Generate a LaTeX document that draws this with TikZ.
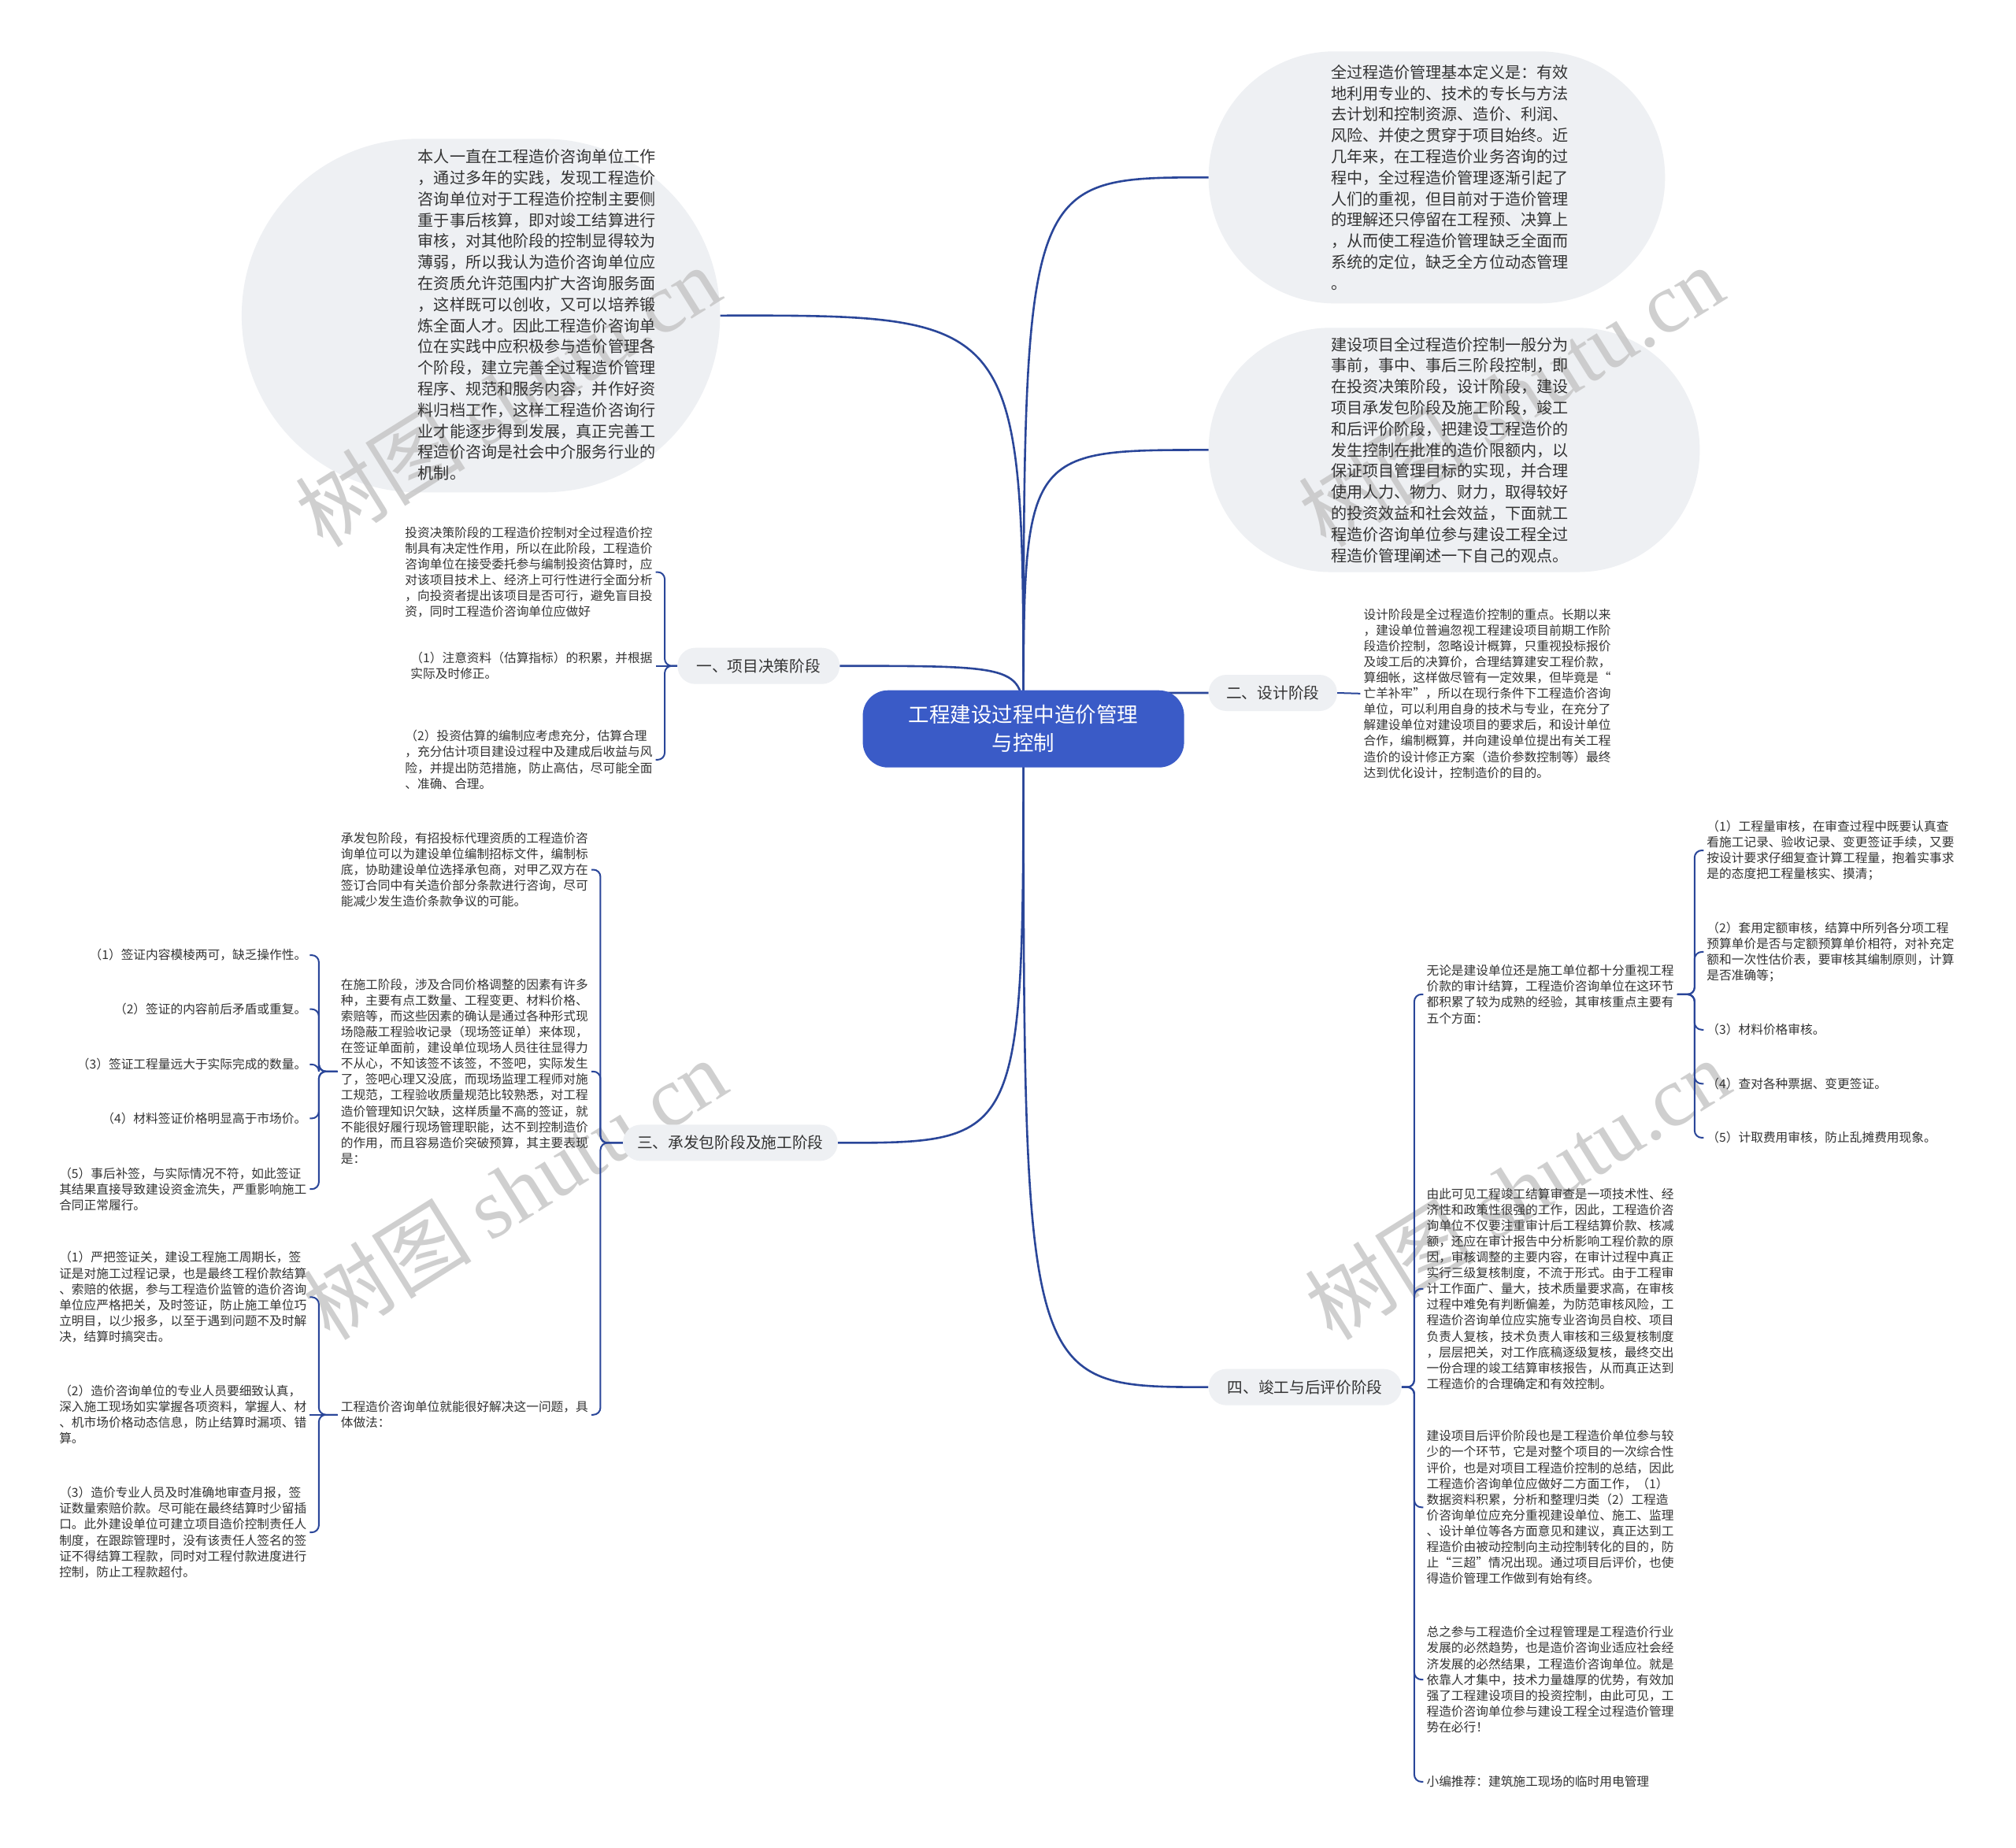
\documentclass[tikz,border=0pt]{standalone}
\usepackage{fontspec}
\setmainfont{Noto Sans CJK SC}
\newfontfamily\wmserif{Liberation Serif}
\definecolor{pillc}{HTML}{EEF0F3}
\definecolor{rootc}{HTML}{3A5BC7}
\definecolor{linec}{HTML}{2A4699}
\definecolor{txtc}{HTML}{333333}
\definecolor{wmc}{HTML}{C4C4C4}
\pgfdeclarelayer{bg}
\pgfdeclarelayer{mid}
\pgfsetlayers{bg,mid,main}
\tikzset{
  txt/.style={inner ysep=0pt, inner xsep=4pt, align=left, text=txtc, font=\fontsize{15.7pt}{20.1pt}\selectfont},
  bigtxt/.style={inner sep=0pt, align=left, text=txtc, anchor=west, font=\fontsize{20.1pt}{26.8pt}\selectfont},
  ltxt/.style={txt, anchor=east},
  rtxt/.style={txt, anchor=west},
  pill/.style={fill=pillc, rounded corners=22.5pt, minimum height=46pt, inner sep=0pt, text=txtc, font=\fontsize{19.7pt}{24pt}\selectfont},
  bubble/.style={fill=pillc, inner sep=0pt},
  rootnode/.style={fill=rootc, rounded corners=32pt, minimum width=408pt, minimum height=98pt, inner sep=0pt, align=center, text=white, font=\fontsize{26.5pt}{36pt}\selectfont},
  branch/.style={draw=linec, line width=2.6pt},
  brk/.style={draw=linec, line width=2pt, rounded corners=9pt},
  wm/.style={text=wmc, opacity=0.8, rotate=32, inner sep=0pt, font=\fontsize{108pt}{108pt}\selectfont}
}
\begin{document}
\begin{tikzpicture}[x=1.6327pt,y=-1.6327pt]
\useasboundingbox (0,0) rectangle (1568,1437);
\begin{pgfonlayer}{bg}
\fill[white] (0,0) rectangle (1568,1437);
\node[bubble, minimum width=607.4pt, minimum height=449pt, rounded corners=224pt] (b1) at (374,245.5) {};
\node[bubble, minimum width=579.6pt, minimum height=320pt, rounded corners=159.5pt] (b2) at (1117.5,138) {};
\node[bubble, minimum width=623.7pt, minimum height=310.2pt, rounded corners=154.5pt] (b3) at (1131,350) {};
\node[wm] (w1) at (395,308) {树图 {\wmserif shutu.cn}};
\node[wm] (w2) at (1175,308) {树图 {\wmserif shutu.cn}};
\node[wm] (w3) at (400,925) {树图 {\wmserif shutu.cn}};
\node[wm] (w4) at (1180,925) {树图 {\wmserif shutu.cn}};
\end{pgfonlayer}

% bubble texts
\node[bigtxt] (t1) at (325,245) {本人一直在工程造价咨询单位工作\\，通过多年的实践，发现工程造价\\咨询单位对于工程造价控制主要侧\\重于事后核算，即对竣工结算进行\\审核，对其他阶段的控制显得较为\\薄弱，所以我认为造价咨询单位应\\在资质允许范围内扩大咨询服务面\\，这样既可以创收，又可以培养锻\\炼全面人才。因此工程造价咨询单\\位在实践中应积极参与造价管理各\\个阶段，建立完善全过程造价管理\\程序、规范和服务内容，并作好资\\料归档工作，这样工程造价咨询行\\业才能逐步得到发展，真正完善工\\程造价咨询是社会中介服务行业的\\机制。};
\node[bigtxt] (t2) at (1035,138) {全过程造价管理基本定义是：有效\\地利用专业的、技术的专长与方法\\去计划和控制资源、造价、利润、\\风险、并使之贯穿于项目始终。近\\几年来，在工程造价业务咨询的过\\程中，全过程造价管理逐渐引起了\\人们的重视，但目前对于造价管理\\的理解还只停留在工程预、决算上\\，从而使工程造价管理缺乏全面而\\系统的定位，缺乏全方位动态管理\\。};
\node[bigtxt] (t3) at (1035,350) {建设项目全过程造价控制一般分为\\事前，事中、事后三阶段控制，即\\在投资决策阶段，设计阶段，建设\\项目承发包阶段及施工阶段，竣工\\和后评价阶段，把建设工程造价的\\发生控制在批准的造价限额内，以\\保证项目管理目标的实现，并合理\\使用人力、物力、财力，取得较好\\的投资效益和社会效益，下面就工\\程造价咨询单位参与建设工程全过\\程造价管理阐述一下自己的观点。};

% root and level-1 nodes
\node[rootnode] (root) at (796,567) {工程建设过程中造价管理\\与控制};
\node[pill, minimum width=205.7pt] (p1) at (590,518) {一、项目决策阶段};
\node[pill, minimum width=163pt] (p2) at (990,539) {二、设计阶段};
\node[pill, minimum width=272.7pt] (p3) at (568,889) {三、承发包阶段及施工阶段};
\node[pill, minimum width=245pt] (p4) at (1015,1079) {四、竣工与后评价阶段};

% branch one
\node[ltxt] (c1) at (510,445) {投资决策阶段的工程造价控制对全过程造价控\\制具有决定性作用，所以在此阶段，工程造价\\咨询单位在接受委托参与编制投资估算时，应\\对该项目技术上、经济上可行性进行全面分析\\，向投资者提出该项目是否可行，避免盲目投\\资，同时工程造价咨询单位应做好};
\node[ltxt] (c2) at (510,518) {（1）注意资料（估算指标）的积累，并根据\\实际及时修正。};
\node[ltxt] (c3) at (510,591) {（2）投资估算的编制应考虑充分，估算合理\\，充分估计项目建设过程中及建成后收益与风\\险，并提出防范措施，防止高估，尽可能全面\\、准确、合理。};

% branch two
\node[rtxt] (dz) at (1058,539.5) {设计阶段是全过程造价控制的重点。长期以来\\，建设单位普遍忽视工程建设项目前期工作阶\\段造价控制，忽略设计概算，只重视投标报价\\及竣工后的决算价，合理结算建安工程价款，\\算细帐，这样做尽管有一定效果，但毕竟是“\\亡羊补牢”，所以在现行条件下工程造价咨询\\单位，可以利用自身的技术与专业，在充分了\\解建设单位对建设项目的要求后，和设计单位\\合作，编制概算，并向建设单位提出有关工程\\造价的设计修正方案（造价参数控制等）最终\\达到优化设计，控制造价的目的。};

% branch three
\node[ltxt] (d1) at (460,676.5) {承发包阶段，有招投标代理资质的工程造价咨\\询单位可以为建设单位编制招标文件，编制标\\底，协助建设单位选择承包商，对甲乙双方在\\签订合同中有关造价部分条款进行咨询，尽可\\能减少发生造价条款争议的可能。};
\node[ltxt] (d2) at (460,833.5) {在施工阶段，涉及合同价格调整的因素有许多\\种，主要有点工数量、工程变更、材料价格、\\索赔等，而这些因素的确认是通过各种形式现\\场隐蔽工程验收记录（现场签证单）来体现，\\在签证单面前，建设单位现场人员往往显得力\\不从心，不知该签不该签，不签吧，实际发生\\了，签吧心理又没底，而现场监理工程师对施\\工规范，工程验收质量规范比较熟悉，对工程\\造价管理知识欠缺，这样质量不高的签证，就\\不能很好履行现场管理职能，达不到控制造价\\的作用，而且容易造价突破预算，其主要表现\\是：};
\node[ltxt] (d3) at (460,1100.5) {工程造价咨询单位就能很好解决这一问题，具\\体做法：};

\node[ltxt] (e1) at (241,743) {（1）签证内容模棱两可，缺乏操作性。};
\node[ltxt] (e2) at (241,785) {（2）签证的内容前后矛盾或重复。};
\node[ltxt] (e3) at (241,828) {（3）签证工程量远大于实际完成的数量。};
\node[ltxt] (e4) at (241,870) {（4）材料签证价格明显高于市场价。};
\node[ltxt] (e5) at (241,925) {（5）事后补签，与实际情况不符，如此签证\\其结果直接导致建设资金流失，严重影响施工\\合同正常履行。};

\node[ltxt] (f1) at (241,1009) {（1）严把签证关，建设工程施工周期长，签\\证是对施工过程记录，也是最终工程价款结算\\、索赔的依据，参与工程造价监管的造价咨询\\单位应严格把关，及时签证，防止施工单位巧\\立明目，以少报多，以至于遇到问题不及时解\\决，结算时搞突击。};
\node[ltxt] (f2) at (241,1100.5) {（2）造价咨询单位的专业人员要细致认真，\\深入施工现场如实掌握各项资料，掌握人、材\\、机市场价格动态信息，防止结算时漏项、错\\算。};
\node[ltxt] (f3) at (241,1192) {（3）造价专业人员及时准确地审查月报，签\\证数量索赔价款。尽可能在最终结算时少留插\\口。此外建设单位可建立项目造价控制责任人\\制度，在跟踪管理时，没有该责任人签名的签\\证不得结算工程款，同时对工程付款进度进行\\控制，防止工程款超付。};

% branch four
\node[rtxt] (g1) at (1107,773.5) {无论是建设单位还是施工单位都十分重视工程\\价款的审计结算，工程造价咨询单位在这环节\\都积累了较为成熟的经验，其审核重点主要有\\五个方面：};
\node[rtxt] (g2) at (1107,1002.5) {由此可见工程竣工结算审查是一项技术性、经\\济性和政策性很强的工作，因此，工程造价咨\\询单位不仅要注重审计后工程结算价款、核减\\额，还应在审计报告中分析影响工程价款的原\\因，审核调整的主要内容，在审计过程中真正\\实行三级复核制度，不流于形式。由于工程审\\计工作面广、量大，技术质量要求高，在审核\\过程中难免有判断偏差，为防范审核风险，工\\程造价咨询单位应实施专业咨询员自校、项目\\负责人复核，技术负责人审核和三级复核制度\\，层层把关，对工作底稿逐级复核，最终交出\\一份合理的竣工结算审核报告，从而真正达到\\工程造价的合理确定和有效控制。};
\node[rtxt] (g3) at (1107,1172.5) {建设项目后评价阶段也是工程造价单位参与较\\少的一个环节，它是对整个项目的一次综合性\\评价，也是对项目工程造价控制的总结，因此\\工程造价咨询单位应做好二方面工作，（1）\\数据资料积累，分析和整理归类（2）工程造\\价咨询单位应充分重视建设单位、施工、监理\\、设计单位等各方面意见和建议，真正达到工\\程造价由被动控制向主动控制转化的目的，防\\止“三超”情况出现。通过项目后评价，也使\\得造价管理工作做到有始有终。};
\node[rtxt] (g4) at (1107,1306.5) {总之参与工程造价全过程管理是工程造价行业\\发展的必然趋势，也是造价咨询业适应社会经\\济发展的必然结果，工程造价咨询单位。就是\\依靠人才集中，技术力量雄厚的优势，有效加\\强了工程建设项目的投资控制，由此可见，工\\程造价咨询单位参与建设工程全过程造价管理\\势在必行！};
\node[rtxt] (g5) at (1107,1386) {小编推荐：建筑施工现场的临时用电管理};

\node[rtxt] (h1) at (1325,661.5) {（1）工程量审核，在审查过程中既要认真查\\看施工记录、验收记录、变更签证手续，又要\\按设计要求仔细复查计算工程量，抱着实事求\\是的态度把工程量核实、摸清；};
\node[rtxt] (h2) at (1325,740.5) {（2）套用定额审核，结算中所列各分项工程\\预算单价是否与定额预算单价相符，对补充定\\额和一次性估价表，要审核其编制原则，计算\\是否准确等；};
\node[rtxt] (h3) at (1325,801) {（3）材料价格审核。};
\node[rtxt] (h4) at (1325,843) {（4）查对各种票据、变更签证。};
\node[rtxt] (h5) at (1325,885) {（5）计取费用审核，防止乱摊费用现象。};

% connectors
\begin{pgfonlayer}{mid}
\draw[branch] (root.center) .. controls (796,245) .. (b1.east);
\draw[branch] (root.center) .. controls (796,138) .. (b2.west);
\draw[branch] (root.center) .. controls (796,350) .. (b3.west);
\draw[branch] (root.center) .. controls (796,518) .. (p1.east);
\draw[branch] (root.center) .. controls (796,539) .. (p2.west);
\draw[branch] (root.center) .. controls (796,889) .. (p3.east);
\draw[branch] (root.center) .. controls (796,1079) .. (p4.west);

\draw[brk] (p1.west) -- (517,518) |- (c1.east);
\draw[brk] (p1.west) -- (c2.east);
\draw[brk] (p1.west) -- (517,518) |- (c3.east);

\draw[brk] (p2.east) -- (dz.west);

\draw[brk] (p3.west) -- (467,889) |- (d1.east);
\draw[brk] (p3.west) -- (467,889) |- (d2.east);
\draw[brk] (p3.west) -- (467,889) |- (d3.east);

\draw[brk] (d2.west) -- (248,833.5) |- (e1.east);
\draw[brk] (d2.west) -- (248,833.5) |- (e2.east);
\draw[brk] (d2.west) -- (248,833.5) |- (e3.east);
\draw[brk] (d2.west) -- (248,833.5) |- (e4.east);
\draw[brk] (d2.west) -- (248,833.5) |- (e5.east);

\draw[brk] (d3.west) -- (248,1100.5) |- (f1.east);
\draw[brk] (d3.west) -- (f2.east);
\draw[brk] (d3.west) -- (248,1100.5) |- (f3.east);

\draw[brk] (p4.east) -- (1100,1079) |- (g1.west);
\draw[brk] (p4.east) -- (1100,1079) |- (g2.west);
\draw[brk] (p4.east) -- (1100,1079) |- (g3.west);
\draw[brk] (p4.east) -- (1100,1079) |- (g4.west);
\draw[brk] (p4.east) -- (1100,1079) |- (g5.west);

\draw[brk] (g1.east) -- (1318,773.5) |- (h1.west);
\draw[brk] (g1.east) -- (1318,773.5) |- (h2.west);
\draw[brk] (g1.east) -- (1318,773.5) |- (h3.west);
\draw[brk] (g1.east) -- (1318,773.5) |- (h4.west);
\draw[brk] (g1.east) -- (1318,773.5) |- (h5.west);
\end{pgfonlayer}
\end{tikzpicture}
\end{document}
